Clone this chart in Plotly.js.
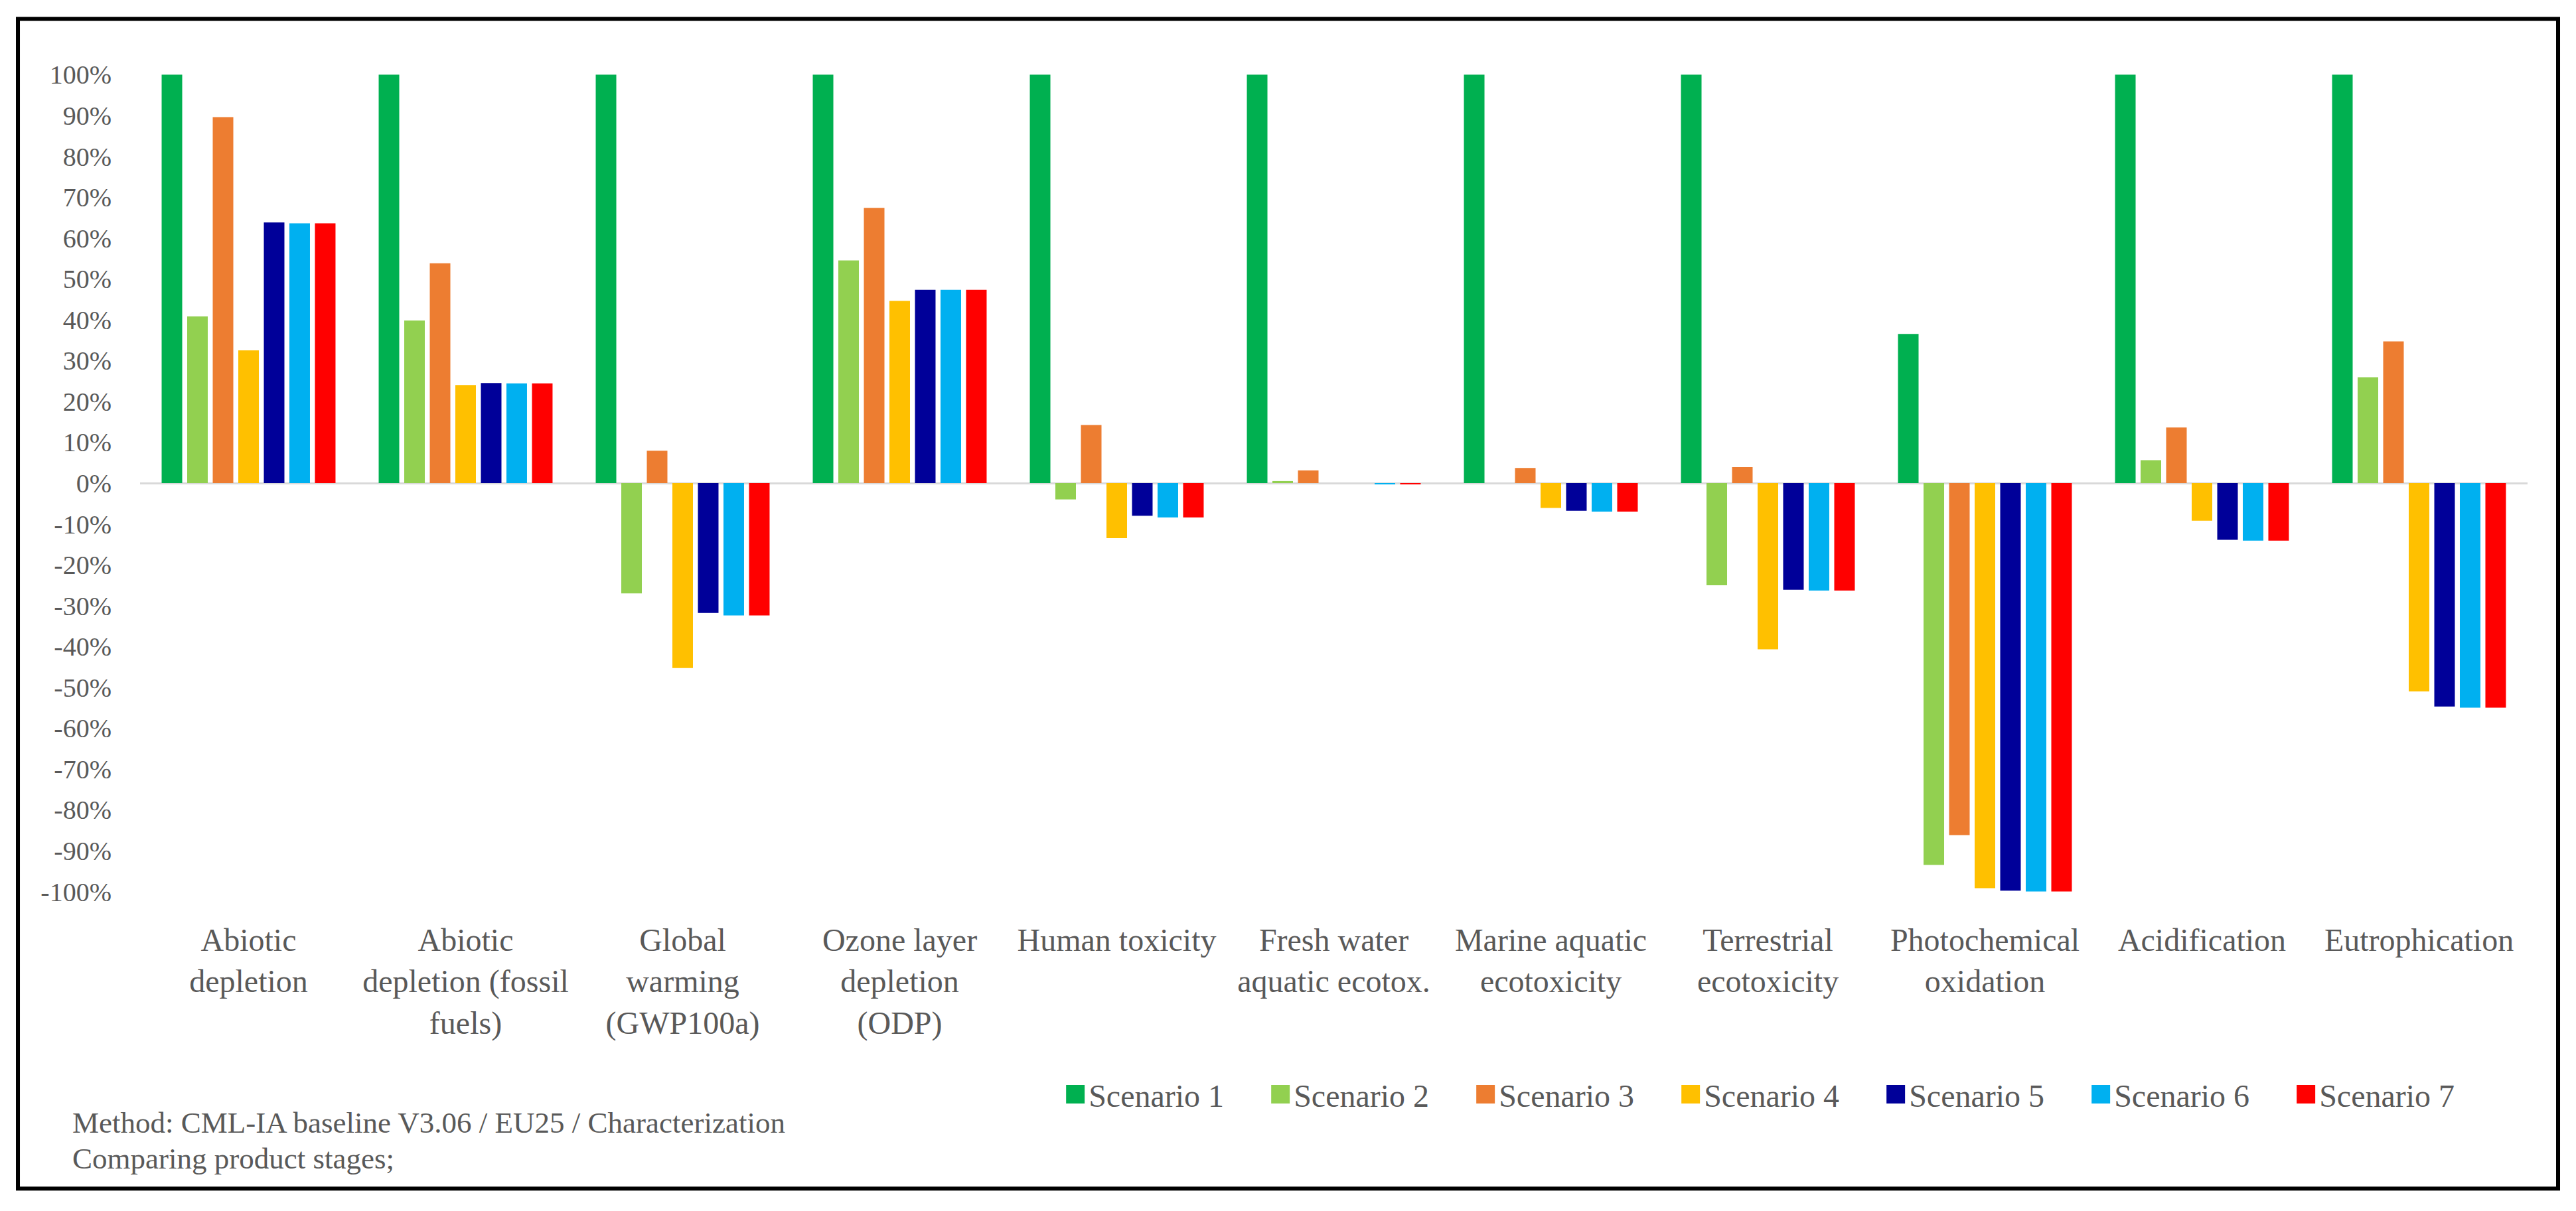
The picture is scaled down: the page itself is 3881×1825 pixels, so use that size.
<!DOCTYPE html>
<html>
<head>
<meta charset="utf-8">
<script src="https://cdn.plot.ly/plotly-3.0.1.min.js"></script>
<style>
html,body{margin:0;padding:0;background:#ffffff;}
#chart{width:3881px;height:1825px;}
</style>
</head>
<body>
<div id="chart"></div>
<script>
// ---- data ----
const categories = [
  'Abiotic<br>depletion',
  'Abiotic<br>depletion (fossil<br>fuels)',
  'Global<br>warming<br>(GWP100a)',
  'Ozone layer<br>depletion<br>(ODP)',
  'Human toxicity',
  'Fresh water<br>aquatic ecotox.',
  'Marine aquatic<br>ecotoxicity',
  'Terrestrial<br>ecotoxicity',
  'Photochemical<br>oxidation',
  'Acidification',
  'Eutrophication'
];
const seriesNames = ['Scenario 1','Scenario 2','Scenario 3','Scenario 4','Scenario 5','Scenario 6','Scenario 7'];
const seriesColors = ['#00B050','#92D050','#ED7D31','#FFC000','#000099','#00B0F0','#FF0000'];

const scenario1 = [100, 100, 100, 100, 100, 100, 100, 100, 36.5, 100, 100];
const scenario2 = [40.8, 39.8, -27.0, 54.5, -4.0, 0.5, 0, -25.0, -93.5, 5.6, 25.9];
const scenario3 = [89.6, 53.8, 7.9, 67.4, 14.2, 3.1, 3.7, 3.9, -86.2, 13.6, 34.7];
const scenario4 = [32.5, 24.0, -45.3, 44.6, -13.5, 0, -6.1, -40.7, -99.2, -9.2, -51.0];
const scenario5 = [63.8, 24.5, -31.8, 47.3, -8.0, 0, -6.8, -26.1, -99.8, -13.9, -54.7];
const scenario6 = [63.6, 24.4, -32.4, 47.3, -8.4, -0.3, -7.0, -26.3, -100, -14.1, -55.0];
const scenario7 = [63.6, 24.4, -32.4, 47.3, -8.4, -0.3, -7.0, -26.3, -100, -14.1, -55.0];

const tickValues = [-100,-90,-80,-70,-60,-50,-40,-30,-20,-10,0,10,20,30,40,50,60,70,80,90,100];
const tickLabels = ['-100%','-90%','-80%','-70%','-60%','-50%','-40%','-30%','-20%','-10%','0%','10%','20%','30%','40%','50%','60%','70%','80%','90%','100%'];
const gridValues = tickValues.filter(v => v !== 0);

const noteLines = ['Method: CML-IA baseline V3.06 / EU25 / Characterization', 'Comparing product stages;'];

// ---- traces ----
const allSeries = [scenario1, scenario2, scenario3, scenario4, scenario5, scenario6, scenario7];
const traces = allSeries.map((vals, i) => ({
  type: 'bar',
  name: seriesNames[i],
  x: categories,
  y: vals,
  marker: {color: seriesColors[i], line: {width: 0}},
  hoverinfo: 'skip'
}));

const FONT = '"Liberation Serif", "Times New Roman", serif';
const TXT = '#595959';

const layout = {
  width: 3881,
  height: 1825,
  margin: {l: 211, r: 73, t: 93.5, b: 462.5, pad: 0},
  paper_bgcolor: '#ffffff',
  plot_bgcolor: 'rgba(0,0,0,0)',
  barmode: 'group',
  bargap: 0.176,
  bargroupgap: 0.195,
  showlegend: true,
  font: {family: FONT, color: TXT, size: 48},
  xaxis: {
    type: 'category',
    showgrid: false,
    zeroline: false,
    showline: false,
    ticks: '',
    tickangle: 0,
    tickfont: {family: FONT, size: 48, color: TXT},
    ticklabelstandoff: 22,
    automargin: false,
    fixedrange: true
  },
  yaxis: {
    range: [-103, 103],
    tickvals: tickValues,
    ticktext: tickLabels,
    showgrid: false,
    zeroline: true,
    zerolinecolor: '#D9D9D9',
    zerolinewidth: 3,
    showline: false,
    ticks: '',
    tickfont: {family: FONT, size: 40, color: TXT},
    ticklabelstandoff: 42,
    automargin: false,
    fixedrange: true
  },
  yaxis2: {
    overlaying: 'y',
    anchor: 'x',
    side: 'left',
    range: [-103, 103],
    tickvals: gridValues,
    showticklabels: false,
    showgrid: true,
    gridcolor: '#D9D9D9',
    gridwidth: 5,
    zeroline: false,
    showline: false,
    ticks: '',
    automargin: false,
    fixedrange: true
  },
  legend: {
    orientation: 'h',
    x: 0.3862,
    xanchor: 'left',
    y: -0.2266,
    yanchor: 'middle',
    font: {family: FONT, size: 48, color: TXT},
    entrywidth: 264,
    entrywidthmode: 'pixels',
    bgcolor: 'rgba(0,0,0,0)',
    borderwidth: 0,
    traceorder: 'normal'
  },
  annotations: [
    {xref: 'paper', yref: 'paper', x: -0.0289, y: -0.2604, xanchor: 'left', yanchor: 'middle',
     text: noteLines[0], showarrow: false, font: {family: FONT, size: 45, color: TXT}},
    {xref: 'paper', yref: 'paper', x: -0.0289, y: -0.303, xanchor: 'left', yanchor: 'middle',
     text: noteLines[1], showarrow: false, font: {family: FONT, size: 45, color: TXT}}
  ],
  shapes: [
    {type: 'rect', xref: 'paper', yref: 'paper', x0: -0.05115, x1: 1.01279, y0: -0.33846, y1: 1.05162,
     line: {color: '#000000', width: 6}, fillcolor: 'rgba(0,0,0,0)', layer: 'above'}
  ]
};

function enlargeLegendSymbols() {
  document.querySelectorAll('#chart .legend .legendpoints path').forEach(p => {
    if (!p.dataset.scaled) {
      const t = p.getAttribute('transform') || '';
      p.setAttribute('transform', t + ' scale(2.33)');
      p.dataset.scaled = '1';
    }
  });
}

Plotly.newPlot('chart', traces, layout, {displayModeBar: false, responsive: false}).then(gd => {
  enlargeLegendSymbols();
  gd.on('plotly_afterplot', enlargeLegendSymbols);
});
</script>
</body>
</html>
